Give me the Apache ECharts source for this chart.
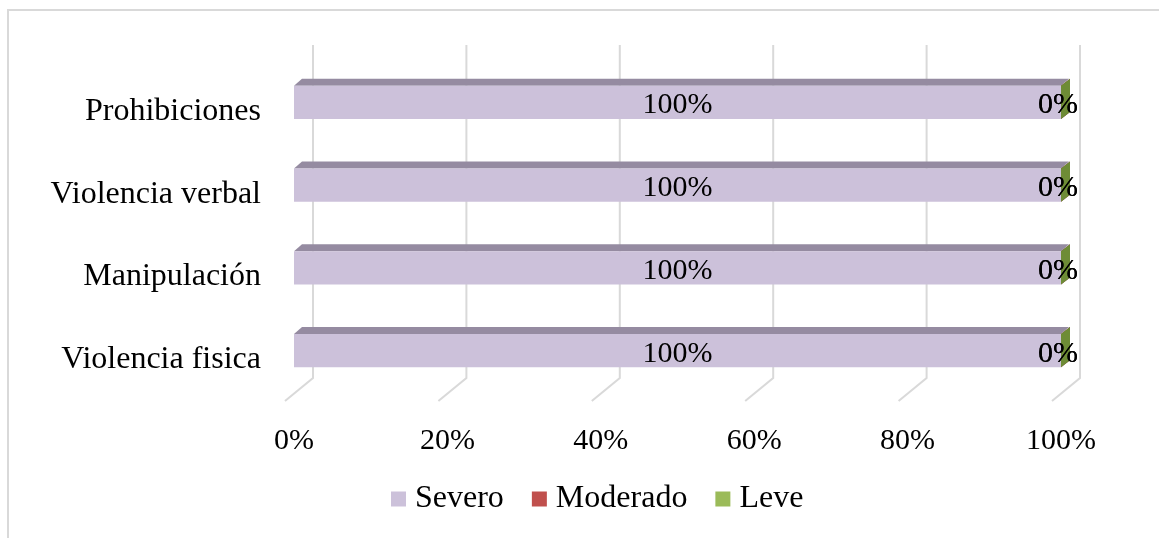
<!DOCTYPE html>
<html>
<head>
<meta charset="utf-8">
<script src="https://cdn.jsdelivr.net/npm/echarts@6/dist/echarts.min.js"></script>
<style>
  html, body { margin: 0; padding: 0; background: #fff; }
  #chart { width: 1159px; height: 538px; }
</style>
</head>
<body>
<div id="chart"></div>
<script>
  // categories bottom -> top
  var categories = ['Violencia fisica', 'Manipulación', 'Violencia verbal', 'Prohibiciones'];
  var severo = [100, 100, 100, 100];
  var moderado = [0, 0, 0, 0];
  var leve = [0, 0, 0, 0];
  var xTicks = [0, 20, 40, 60, 80, 100];

  var FONT = 'Liberation Serif';
  var DX = 8, DY = 7; // bar depth

  var SERIES = [
    { name: 'Severo', values: severo, front: '#ccc1da', top: '#958ba1', side: '#a79cb5' },
    { name: 'Moderado', values: moderado, front: '#c0504d', top: '#8f3b39', side: '#96403d' },
    { name: 'Leve', values: leve, front: '#9bbb59', top: '#6f8a3a', side: '#6e8c36' }
  ];

  // stacked start/end per category
  var running = categories.map(function () { return 0; });
  var seriesData = SERIES.map(function (s) {
    return s.values.map(function (v, i) {
      var st = running[i];
      running[i] += v;
      return [st, st + v, i, v];
    });
  });

  function barItem(s) {
    return function (params, api) {
      var cat = api.value(2);
      var p0 = api.coord([api.value(0), cat]);
      var p1 = api.coord([api.value(1), cat]);
      var h = api.size([0, 1])[1] * 0.4;
      var x0 = p0[0], x1 = p1[0], y0 = p0[1] - h / 2;
      var v = api.value(3);
      var lx = v === 0 ? x1 - 3 : (x0 + x1) / 2;
      return {
        type: 'group',
        children: [
          { type: 'polygon', shape: { points: [[x0, y0], [x1, y0], [x1 + DX, y0 - DY], [x0 + DX, y0 - DY]] },
            style: { fill: s.top } },
          { type: 'rect', shape: { x: x0, y: y0, width: x1 - x0, height: h }, style: { fill: s.front } },
          { type: 'polygon', shape: { points: [[x1, y0], [x1 + DX + 1, y0 - DY], [x1 + DX + 1, y0 + h - DY], [x1, y0 + h]] },
            style: { fill: s.side } },
          { type: 'text', z2: 10, style: { x: lx, y: y0 + h / 2 + 3, text: v + '%', align: 'center',
            verticalAlign: 'middle', font: '30px "' + FONT + '"', fill: '#000' } }
        ]
      };
    };
  }

  // back wall + floor gridlines
  function gridItem(params, api) {
    var cs = params.coordSys;
    var x = api.coord([api.value(0), 0])[0];
    var top = cs.y - 16, bottom = cs.y + cs.height;
    return {
      type: 'polyline',
      shape: { points: [[x + 19, top], [x + 19, bottom - 14], [x - 9, bottom + 9]] },
      style: { stroke: '#d9d9d9', lineWidth: 2, fill: null }
    };
  }

  var series = [{
    type: 'custom',
    silent: true,
    renderItem: gridItem,
    data: xTicks.map(function (t) { return [t]; }),
    z: 1
  }];
  SERIES.forEach(function (s, k) {
    series.push({
      name: s.name,
      type: 'custom',
      renderItem: barItem(s),
      itemStyle: { color: s.front },
      encode: { x: [0, 1], y: 2 },
      data: seriesData[k],
      z: 2
    });
  });

  var chart = echarts.init(document.getElementById('chart'));
  chart.setOption({
    backgroundColor: '#fff',
    animation: false,
    graphic: [{
      type: 'rect',
      shape: { x: 8, y: 10, width: 1200, height: 600 },
      style: { fill: null, stroke: '#d9d9d9', lineWidth: 2 }
    }],
    grid: { left: 294, right: 98, top: 61, bottom: 146 },
    legend: {
      bottom: 18,
      left: 386,
      icon: 'rect',
      itemWidth: 15,
      itemHeight: 15,
      itemGap: 28,
      textStyle: { fontFamily: FONT, fontSize: 32, color: '#000', padding: [0, 0, 0, 4] },
      data: SERIES.map(function (s) { return s.name; })
    },
    xAxis: {
      type: 'value',
      min: 0,
      max: 100,
      interval: 20,
      axisLine: { show: false },
      axisTick: { show: false },
      splitLine: { show: false },
      axisLabel: { formatter: '{value}%', margin: 34, color: '#000', fontFamily: FONT, fontSize: 30 }
    },
    yAxis: {
      type: 'category',
      data: categories,
      axisLine: { show: false },
      axisTick: { show: false },
      axisLabel: { margin: 33, color: '#000', fontFamily: FONT, fontSize: 32,
        verticalAlign: 'top', lineHeight: 18 }
    },
    series: series
  });
</script>
</body>
</html>
